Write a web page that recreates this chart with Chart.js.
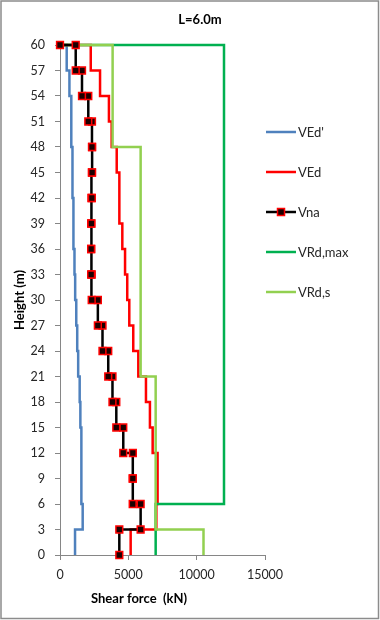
<!DOCTYPE html>
<html>
<head>
<meta charset="utf-8">
<script src="https://cdn.jsdelivr.net/npm/chart.js@4"></script>
<style>
  body { margin: 0; background: #fff; }
  canvas { display: block; }
</style>
</head>
<body>
<canvas id="shearChart" width="380" height="620"></canvas>
<script>
// storey levels (m), values are per 3 m interval from bottom to top
const levels = [0, 3, 6, 9, 12, 15, 18, 21, 24, 27, 30, 33, 36, 39, 42, 45, 48, 51, 54, 57, 60];
const vEdPrime = [1100, 1660, 1600, 1570, 1540, 1490, 1440, 1330, 1260, 1190, 1110, 1060, 1010, 970, 940, 900, 860, 810, 690, 490];
const vEd = [5170, 7050, 7120, 7150, 6780, 6580, 6290, 5730, 5360, 5070, 4920, 4760, 4560, 4390, 4320, 4150, 3780, 3580, 2930, 2250];
const vna = [4340, 5900, 5320, 5330, 4630, 4120, 3840, 3530, 3110, 2770, 2320, 2280, 2280, 2300, 2330, 2350, 2340, 2070, 1610, 1150];
const vRdMax = [7000, 7000, 12000, 12000, 12000, 12000, 12000, 12000, 12000, 12000, 12000, 12000, 12000, 12000, 12000, 12000, 12000, 12000, 12000, 12000];
const vRdS = [10500, 7000, 7000, 7000, 7000, 7000, 7000, 5900, 5900, 5900, 5900, 5900, 5900, 5900, 5900, 5900, 3850, 3850, 3850, 3850];
const seriesNames = ["VEd'", 'VEd', 'Vna', 'VRd,max', 'VRd,s'];

function steps(values) {
    const pts = [];
    values.forEach(function (v, i) {
        pts.push({ x: v, y: levels[i] }, { x: v, y: levels[i + 1] });
    });
    pts.push({ x: 0, y: levels[levels.length - 1] });
    return pts;
}

function lineSet(label, values, color, order) {
    return {
        label: label,
        data: steps(values),
        showLine: true,
        borderColor: color,
        backgroundColor: color,
        borderWidth: 2.5,
        pointRadius: 0,
        clip: false,
        order: order
    };
}

const vnaSet = lineSet(seriesNames[2], vna, '#000000', 0);
vnaSet.pointRadius = 4.8;
vnaSet.pointStyle = 'rect';
vnaSet.pointBackgroundColor = '#1c0000';
vnaSet.pointBorderColor = '#ff0000';
vnaSet.pointBorderWidth = 1.5;

const datasets = [
    lineSet(seriesNames[0], vEdPrime, '#4f81bd', 4),
    lineSet(seriesNames[1], vEd, '#ff0000', 3),
    vnaSet,
    lineSet(seriesNames[3], vRdMax, '#00b050', 2),
    lineSet(seriesNames[4], vRdS, '#92d050', 1)
];

const FONT = 'Lato, "Open Sans", sans-serif';

const decorations = {
    id: 'decorations',
    beforeDraw(chart) {
        const c = chart.ctx;
        c.save();
        c.fillStyle = '#ffffff';
        c.fillRect(0, 0, chart.width, chart.height);
        c.restore();
    },
    afterDraw(chart) {
        const c = chart.ctx;
        c.save();
        // frame
        c.strokeStyle = '#8c8c8c';
        c.lineWidth = 1.5;
        c.strokeRect(1, 1, chart.width - 2.5, chart.height - 2.5);

        // title + x axis title
        c.fillStyle = '#000000';
        c.textAlign = 'center';
        c.textBaseline = 'middle';
        c.font = 'bold 13px ' + FONT;
        c.fillText('L=6.0m', 200, 20);
        c.fillText('Shear force  (kN)', 139, 599);

        // legend
        c.textAlign = 'left';
        c.font = '13px ' + FONT;
        chart.data.datasets.forEach(function (ds, i) {
            const y = 132 + i * 40;
            c.strokeStyle = ds.borderColor;
            c.lineWidth = ds.borderWidth;
            c.beginPath();
            c.moveTo(266, y);
            c.lineTo(296, y);
            c.stroke();
            if (ds.pointRadius > 0) {
                c.fillStyle = ds.pointBackgroundColor;
                c.strokeStyle = ds.pointBorderColor;
                c.lineWidth = ds.pointBorderWidth;
                c.fillRect(277.5, y - 3.5, 7, 7);
                c.strokeRect(277.5, y - 3.5, 7, 7);
            }
            c.fillStyle = '#262626';
            c.fillText(ds.label, 298, y + 1);
        });
        c.restore();
    }
};

new Chart(document.getElementById('shearChart'), {
    type: 'scatter',
    data: { datasets: datasets },
    plugins: [decorations],
    options: {
        responsive: false,
        animation: false,
        events: [],
        layout: { padding: { left: 6, right: 115, top: 45, bottom: 6 } },
        plugins: {
            legend: { display: false },
            tooltip: { enabled: false },
            title: { display: false }
        },
        scales: {
            x: {
                type: 'linear',
                min: 0,
                max: 15000,
                afterFit: function (s) { s.height = 59; },
                ticks: {
                    stepSize: 5000,
                    padding: 7,
                    color: '#262626',
                    font: { family: FONT, size: 12.5 },
                    callback: function (v) { return String(v); }
                },
                grid: { drawOnChartArea: false, drawTicks: true, tickLength: 5, color: '#868686' },
                border: { display: true, color: '#868686', width: 1 }
            },
            y: {
                type: 'linear',
                min: 0,
                max: 60,
                afterFit: function (s) { s.width = 54; },
                ticks: {
                    stepSize: 3,
                    maxTicksLimit: 30,
                    autoSkip: false,
                    padding: 10,
                    color: '#262626',
                    font: { family: FONT, size: 12.5 }
                },
                grid: { drawOnChartArea: false, drawTicks: true, tickLength: 5, color: '#868686' },
                border: { display: true, color: '#868686', width: 1 },
                title: {
                    display: true,
                    text: 'Height (m)',
                    color: '#000000',
                    font: { family: FONT, size: 13, weight: 'bold' },
                    padding: { top: 6, bottom: 0 }
                }
            }
        }
    }
});
</script>
</body>
</html>
